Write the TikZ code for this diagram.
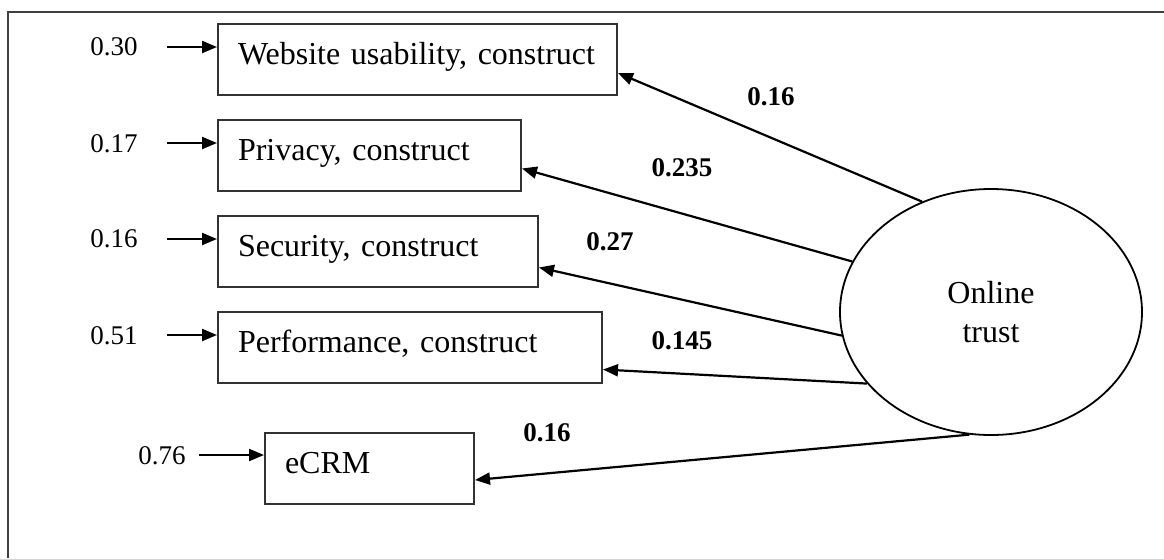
\documentclass[tikz,border=0pt]{standalone}
\usepackage{fontspec}
\setmainfont{Liberation Serif}
\frenchspacing
\usetikzlibrary{shapes.geometric,arrows.meta}
\tikzset{ cbox/.style = { rectangle % construct box
        , draw = black!80
        , line width = 1pt
        , inner xsep = 10pt
        , inner ysep = 0pt
        , text height = 20pt
        , text depth = 15.5pt
        , align = left
        , text width = #1
        , font = \fontsize{16}{19.5}\selectfont
        , anchor = north west
        }
        , err/.style = { rectangle % error value
        , inner sep = 0pt
        , font = \fontsize{13.5}{16}\selectfont
        }
        , coef/.style = { rectangle % path coefficient
        , inner sep = 0pt
        , font = \fontsize{13.5}{16}\selectfont\bfseries
        }
        }

\begin{document}
\begin{tikzpicture}[x=0.5pt, y=-0.5pt, >={Triangle[length=7.5pt,width=6pt]},
        latent_style/.style={ellipse,draw,line width=0.9pt,inner sep=0pt,minimum width=151pt,minimum height=123pt,align=center,font=\fontsize{16}{19.5}\selectfont},
        edge_style/.style={draw=black, line width=1.1pt,->},
        frame_style/.style={draw=black!75, line width=1pt}]
        \useasboundingbox (0,0) rectangle (1164,558);
        \draw [frame_style] (1164,12) -- (8,12) -- (8,558);

        \node [cbox=179.5pt](web) at (217,23) {Website usability, construct};
        \node [cbox=131.5pt](priv) at (217,119) {Privacy, construct};
        \node [cbox=140pt](sec) at (217,215) {Security, construct};
        \node [cbox=172pt](perf) at (217,311) {Performance, construct};
        \node [cbox=84.5pt](ecrm) at (264,432) {eCRM};
        \node [latent_style](trust) at (991,312) {Online\\trust};

        \node [err](e1) at (114,47) {0.30};
        \node [err](e2) at (114,144) {0.17};
        \node [err](e3) at (114,239) {0.16};
        \node [err](e4) at (114,336) {0.51};
        \node [err](e5) at (162,456) {0.76};
        \coordinate (t1) at (167,47);
        \coordinate (t2) at (167,143);
        \coordinate (t3) at (167,239);
        \coordinate (t4) at (167,335);
        \coordinate (t5) at (199,455);
            \draw [edge_style] (t1) -- (t1 -| web.west);
            \draw [edge_style] (t2) -- (t2 -| priv.west);
            \draw [edge_style] (t3) -- (t3 -| sec.west);
            \draw [edge_style] (t4) -- (t4 -| perf.west);
            \draw [edge_style] (t5) -- (t5 -| ecrm.west);

            \draw [edge_style] (trust.122) -- ([yshift=-6.75pt]web.east);
            \draw [edge_style] (trust.160) -- ([yshift=-6.5pt]priv.east);
            \draw [edge_style] (trust.189) -- ([yshift=-8pt]sec.east);
            \draw [edge_style] (trust.210) -- ([yshift=-11pt]perf.east);
            \draw [edge_style] (trust.260) -- ([yshift=-5.75pt]ecrm.east);

        \node [coef](c1) at (771,97) {0.16};
        \node [coef](c2) at (682,168) {0.235};
        \node [coef](c3) at (610,242) {0.27};
        \node [coef](c4) at (682,341) {0.145};
        \node [coef](c5) at (547,433) {0.16};
        \end{tikzpicture}
\end{document}
